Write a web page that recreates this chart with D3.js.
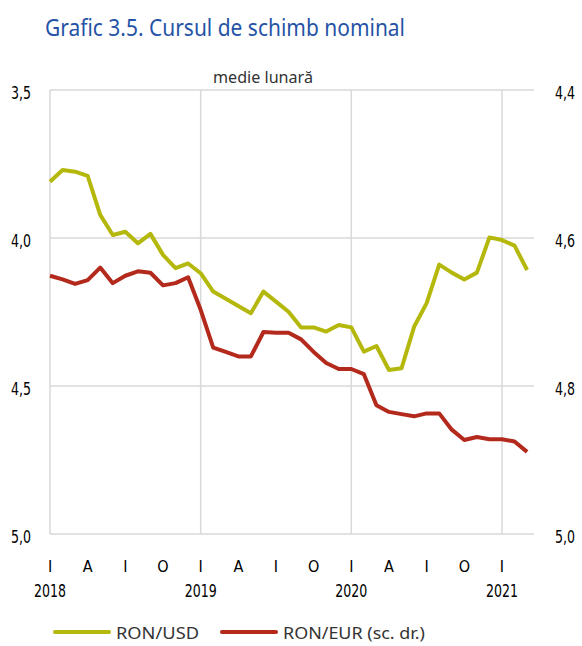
<!DOCTYPE html>
<html>
<head>
<meta charset="utf-8">
<script src="https://cdn.jsdelivr.net/npm/d3@7"></script>
<style>
    body { margin: 0; background: #fff; }
    svg { display: block; }
</style>
</head>
<body>
<svg id="chart"></svg>
<script>
// luni ian 2018 - mar 2021
var months = ["2018-01", "2018-02", "2018-03", "2018-04", "2018-05", "2018-06", "2018-07", "2018-08", "2018-09", "2018-10", "2018-11", "2018-12",
    "2019-01", "2019-02", "2019-03", "2019-04", "2019-05", "2019-06", "2019-07", "2019-08", "2019-09", "2019-10", "2019-11", "2019-12",
    "2020-01", "2020-02", "2020-03", "2020-04", "2020-05", "2020-06", "2020-07", "2020-08", "2020-09", "2020-10", "2020-11", "2020-12",
    "2021-01", "2021-02", "2021-03"];

var ronUsd = [3.810, 3.770, 3.776, 3.790, 3.922, 3.990, 3.979, 4.018, 3.986, 4.057, 4.102, 4.086,
    4.119, 4.181, 4.205, 4.230, 4.254, 4.181, 4.215, 4.249, 4.302, 4.302, 4.316, 4.294,
    4.302, 4.384, 4.365, 4.446, 4.440, 4.300, 4.220, 4.090, 4.117, 4.140, 4.117, 3.998,
    4.007, 4.026, 4.108];

var ronEur = [4.651, 4.656, 4.662, 4.657, 4.640, 4.661, 4.651, 4.645, 4.647, 4.664, 4.661, 4.653,
    4.697, 4.748, 4.754, 4.760, 4.760, 4.727, 4.728, 4.728, 4.737, 4.754, 4.769, 4.777,
    4.777, 4.784, 4.826, 4.835, 4.838, 4.841, 4.837, 4.837, 4.859, 4.873, 4.869, 4.872,
    4.872, 4.875, 4.889];

var leftTicks = [3.5, 4.0, 4.5, 5.0];
var rightTicks = [4.4, 4.6, 4.8, 5.0];
var monthLetters = ["I", "A", "I", "O"];
var years = ["2018", "2019", "2020", "2021"];

var width = 582, height = 646;
var margin = { left: 50, right: 48, top: 90, bottom: 112 };

var svg = d3.select("#chart")
    .attr("width", width)
    .attr("height", height);

var x = d3.scaleLinear()
    .domain([0, 38.55])
    .range([margin.left, width - margin.right]);

var yLeft = d3.scaleLinear()
    .domain([3.5, 5.0])
    .range([margin.top, height - margin.bottom]);

var yRight = d3.scaleLinear()
    .domain([4.4, 5.0])
    .range([margin.top, height - margin.bottom]);

var labelFont = "'Liberation Sans Narrow', 'DejaVu Sans Condensed', 'Roboto', sans-serif";
var textFont = "'Noto Sans', 'Open Sans', sans-serif";

// titlu
svg.append("text")
    .attr("x", 45)
    .attr("y", 36)
    .attr("fill", "#2653a6")
    .attr("font-family", textFont)
    .attr("font-size", 24)
    .attr("textLength", 360)
    .attr("lengthAdjust", "spacingAndGlyphs")
    .text("Grafic 3.5. Cursul de schimb nominal");

svg.append("text")
    .attr("x", 263)
    .attr("y", 83)
    .attr("text-anchor", "middle")
    .attr("fill", "#333")
    .attr("font-family", textFont)
    .attr("font-size", 16)
    .attr("textLength", 100)
    .attr("lengthAdjust", "spacingAndGlyphs")
    .text("medie lunară");

// grila
var grid = svg.append("g").attr("class", "grid");

grid.selectAll("line.h").data(leftTicks)
    .enter().append("line")
    .attr("class", "h")
    .attr("x1", x.range()[0])
    .attr("x2", x.range()[1])
    .attr("y1", function (d) { return yLeft(d); })
    .attr("y2", function (d) { return yLeft(d); })
    .style("stroke", "#d9d9d9")
    .style("stroke-width", 1.5);

var janIdx = months.map(function (m, i) { return i; })
    .filter(function (i) { return months[i].slice(5) === "01"; });

grid.selectAll("line.v").data(janIdx)
    .enter().append("line")
    .attr("class", "v")
    .attr("x1", function (d) { return x(d); })
    .attr("x2", function (d) { return x(d); })
    .attr("y1", yLeft.range()[0])
    .attr("y2", yLeft.range()[1])
    .style("stroke", "#d9d9d9")
    .style("stroke-width", 1.5);

// axe
function fmt(d) { return d3.format(".1f")(d).replace(".", ","); }

var axisLeft = svg.append("g")
    .attr("transform", "translate(" + margin.left + ",0)")
    .call(d3.axisLeft(yLeft).tickValues(leftTicks).tickSize(0).tickPadding(19).tickFormat(fmt));

var axisRight = svg.append("g")
    .attr("transform", "translate(" + (width - margin.right) + ",0)")
    .call(d3.axisRight(yRight).tickValues(rightTicks).tickSize(0).tickPadding(21).tickFormat(fmt));

[axisLeft, axisRight].forEach(function (a) {
    a.select(".domain").remove();
    a.selectAll("text")
        .attr("font-family", labelFont)
        .attr("font-size", 17)
        .attr("dy", "0.5em")
        .attr("textLength", 20)
        .attr("lengthAdjust", "spacingAndGlyphs")
        .attr("fill", "#000");
});

var quarterIdx = months.map(function (m, i) { return i; })
    .filter(function (i) { return (+months[i].slice(5) - 1) % 3 === 0; });

svg.append("g").selectAll("text").data(quarterIdx)
    .enter().append("text")
    .attr("x", function (d) { return x(d); })
    .attr("y", 572)
    .attr("text-anchor", "middle")
    .attr("font-family", labelFont)
    .attr("font-size", 16)
    .attr("fill", "#000")
    .text(function (d) { return monthLetters[(+months[d].slice(5) - 1) / 3]; });

svg.append("g").selectAll("text").data(janIdx)
    .enter().append("text")
    .attr("x", function (d) { return x(d); })
    .attr("y", 597)
    .attr("text-anchor", "middle")
    .attr("font-family", labelFont)
    .attr("font-size", 17)
    .attr("textLength", 32)
    .attr("lengthAdjust", "spacingAndGlyphs")
    .attr("fill", "#000")
    .text(function (d, i) { return years[i]; });

// serii
var lineUsd = d3.line()
    .x(function (d, i) { return x(i); })
    .y(function (d) { return yLeft(d); });

var lineEur = d3.line()
    .x(function (d, i) { return x(i); })
    .y(function (d) { return yRight(d); });

svg.append("path")
    .datum(ronUsd)
    .attr("d", lineUsd)
    .attr("fill", "none")
    .style("stroke", "#b5b80c")
    .style("stroke-width", 4)
    .style("stroke-linejoin", "round");

svg.append("path")
    .datum(ronEur)
    .attr("d", lineEur)
    .attr("fill", "none")
    .style("stroke", "#b3291c")
    .style("stroke-width", 4)
    .style("stroke-linejoin", "round");

// legenda
var legend = [
    { name: "RON/USD", color: "#b5b80c", x: 55, w: 83 },
    { name: "RON/EUR (sc. dr.)", color: "#b3291c", x: 222, w: 142 }
];

var lg = svg.append("g").selectAll("g").data(legend)
    .enter().append("g")
    .attr("transform", function (d) { return "translate(" + d.x + ",632)"; });

lg.append("line")
    .attr("x1", 0).attr("x2", 54)
    .style("stroke", function (d) { return d.color; })
    .style("stroke-width", 4)
    .style("stroke-linecap", "round");

lg.append("text")
    .attr("x", 61)
    .attr("y", 7)
    .attr("font-family", textFont)
    .attr("font-size", 17)
    .attr("textLength", function (d) { return d.w; })
    .attr("lengthAdjust", "spacingAndGlyphs")
    .attr("fill", "#333")
    .text(function (d) { return d.name; });
</script>
</body>
</html>
